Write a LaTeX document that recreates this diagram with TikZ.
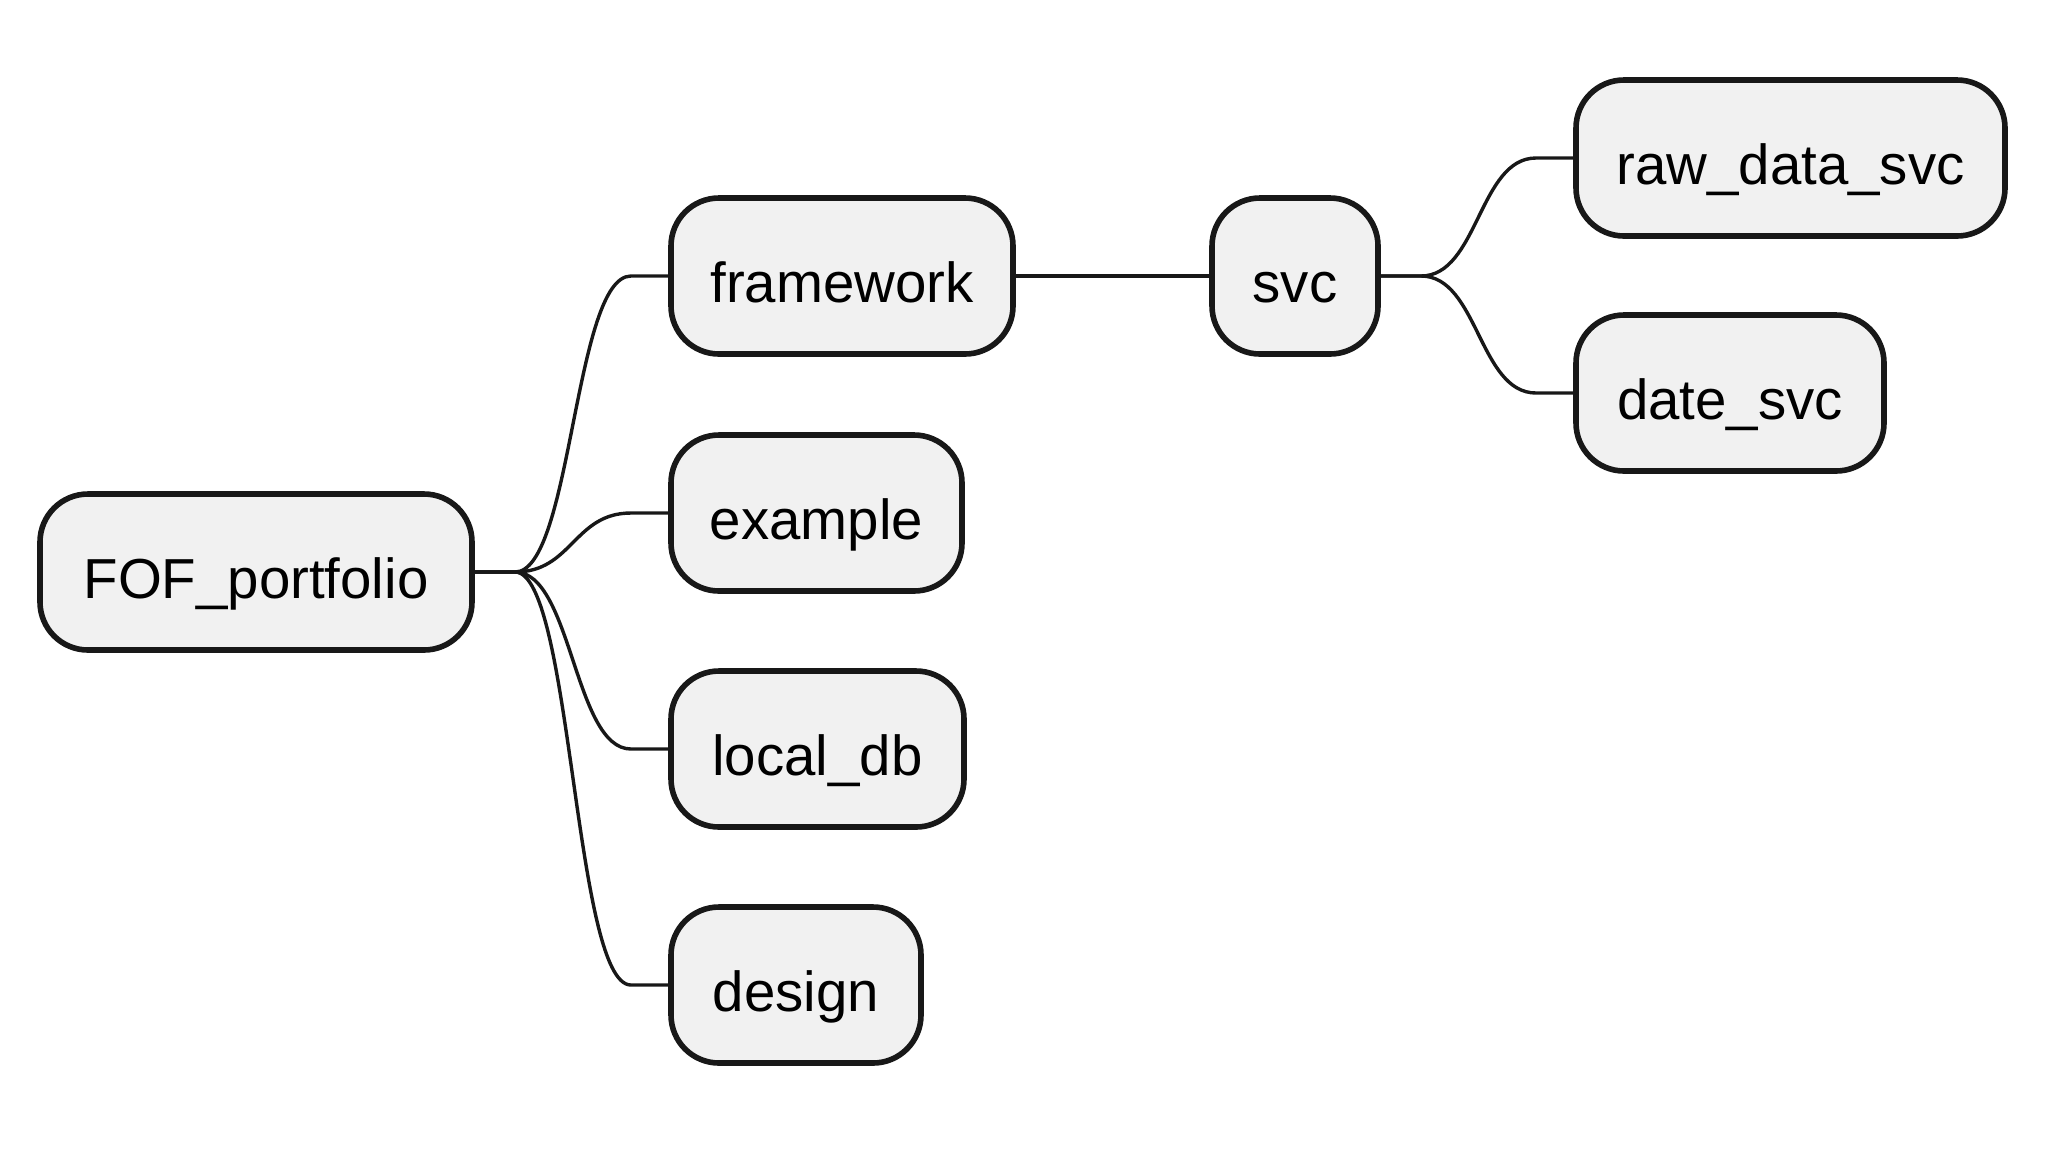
\documentclass[tikz,border=0pt]{standalone}
\usepackage{fontspec}
\setmainfont{Liberation Sans}
\usetikzlibrary{calc}
\definecolor{boxfill}{HTML}{F1F1F1}
\definecolor{boxline}{HTML}{181818}
\tikzset{
  mmbox/.style={draw=boxline, fill=boxfill, line width=2.8pt, rounded corners=24pt,
    rectangle, anchor=north west, minimum height=78pt, inner xsep=0pt, inner ysep=0pt,
    outer sep=0pt, text height=30pt, text depth=4pt,
    font=\fontsize{28.2pt}{34pt}\selectfont, text=black},
  conn/.style={draw=boxline, line width=1.7pt}
}
\newcommand\mmconn[2]{\draw[conn] (#1.east) -- ++(43,0) .. controls +(57,0) and +(-57,0) .. ($(#2.west)+(-40,0)$) -- (#2.west);}
\begin{document}
\begin{tikzpicture}[x=0.5pt,y=-0.5pt]
\useasboundingbox (0,0) rectangle (2048,1148);
\node[mmbox, minimum width=216pt] (fof) at (40,494) {FOF\_portfolio};
\node[mmbox, minimum width=171pt] (framework) at (671,198) {framework};
\node[mmbox, minimum width=145.5pt] (example) at (671,435) {example};
\node[mmbox, minimum width=146.5pt] (localdb) at (671,671) {local\_db};
\node[mmbox, minimum width=125pt] (design) at (671,907) {design};
\node[mmbox, minimum width=83pt] (svc) at (1212,198) {svc};
\node[mmbox, minimum width=214.5pt] (raw) at (1576,80) {raw\_data\_svc};
\node[mmbox, minimum width=154pt] (date) at (1576,315) {date\_svc};
\mmconn{fof}{framework}
\mmconn{fof}{example}
\mmconn{fof}{localdb}
\mmconn{fof}{design}
\draw[conn] (framework.east) -- (svc.west);
\mmconn{svc}{raw}
\mmconn{svc}{date}
\end{tikzpicture}
\end{document}
